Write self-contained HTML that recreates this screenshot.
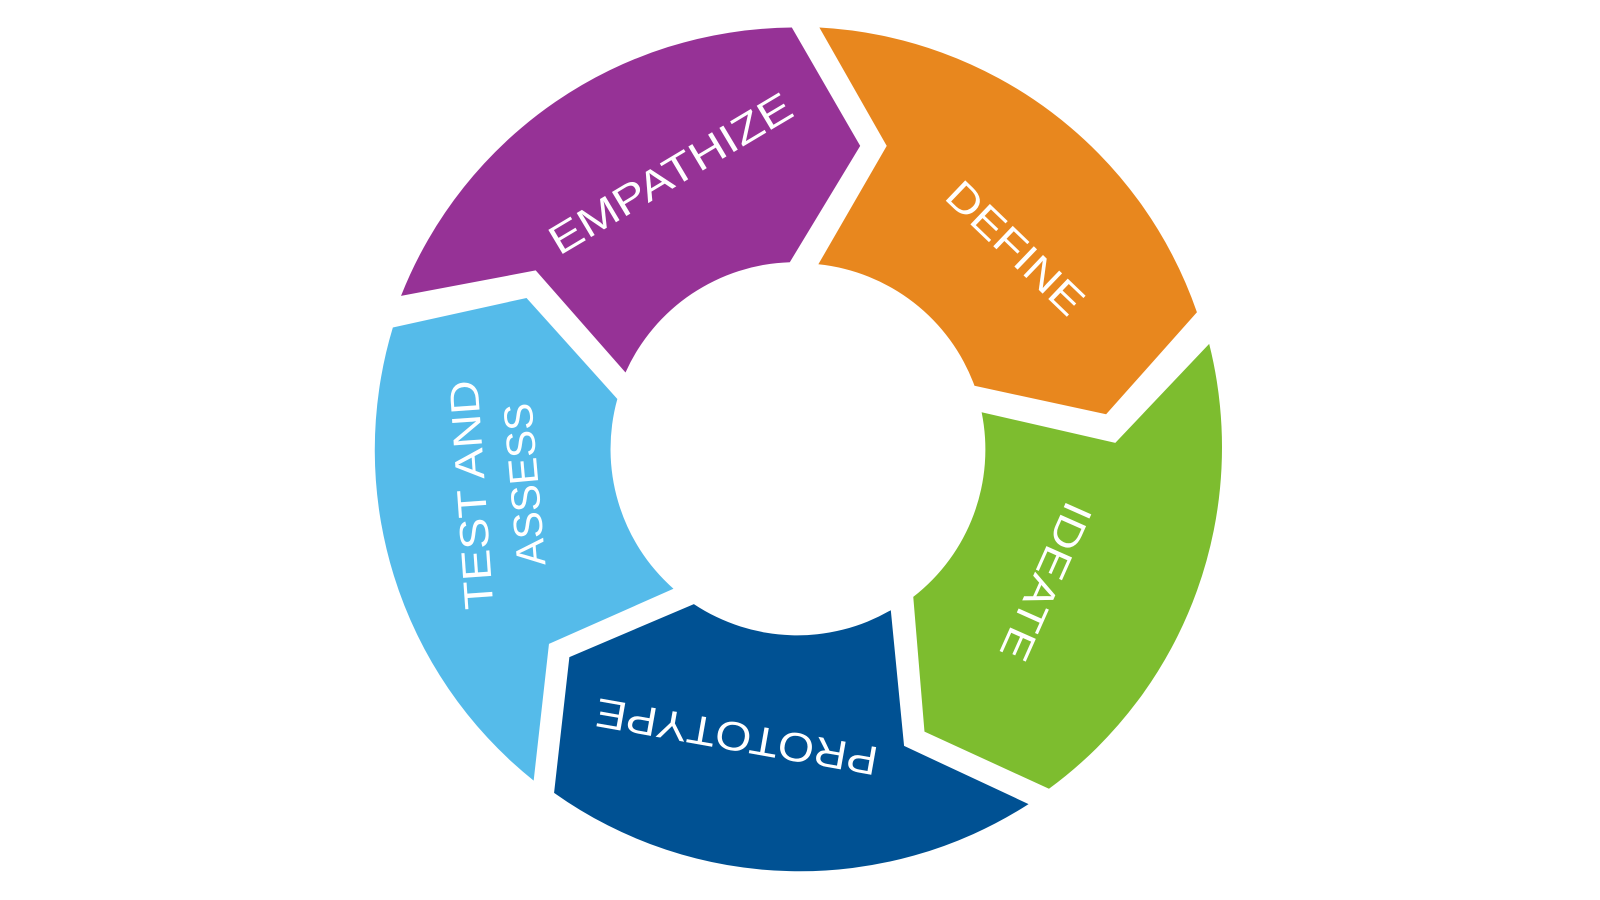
<!DOCTYPE html>
<html><head><meta charset="utf-8"><style>
html,body{margin:0;padding:0;background:#fff;}
svg{display:block;}
text{font-family:"Liberation Sans",sans-serif;fill:#fff;font-size:40px;}
</style></head><body>
<svg width="1600" height="900" viewBox="0 0 1600 900" xmlns="http://www.w3.org/2000/svg">
<g transform="scale(1.0204)">
<path fill="#963296" d="M393,290 A415,415 0 0 1 776,27 L843,143 L774,257 A183,183 0 0 0 613,365 L525,265 Z"/>
<path fill="#E8871E" d="M803,27 A415,415 0 0 1 1173,306 L1084,406 L955,378 A183,183 0 0 0 802,259 L869,143 Z"/>
<path fill="#7DBD2F" d="M1185,337 A415,415 0 0 1 1028,773 L906,717 L895,585 A183,183 0 0 0 962,404 L1093,434 Z"/>
<path fill="#005193" d="M1008,788 A415,415 0 0 1 543,777 L558,644 L680,592 A183,183 0 0 0 873,598 L886,731 Z"/>
<path fill="#55BBEA" d="M523,765 A415,415 0 0 1 385,321 L516,292 L605,391 A183,183 0 0 0 660,577 L538,631 Z"/>

<text x="0" y="0" text-anchor="middle" dominant-baseline="central" textLength="270" lengthAdjust="spacingAndGlyphs" transform="translate(657,170) rotate(-30.8)">EMPATHIZE</text>
<text x="0" y="0" text-anchor="middle" dominant-baseline="central" textLength="170" lengthAdjust="spacingAndGlyphs" transform="translate(995,243) rotate(43.8)">DEFINE</text>
<text x="0" y="0" text-anchor="middle" dominant-baseline="central" textLength="165" lengthAdjust="spacingAndGlyphs" transform="translate(1025,570) rotate(114)">IDEATE</text>
<text x="0" y="0" text-anchor="middle" dominant-baseline="central" textLength="280" lengthAdjust="spacingAndGlyphs" transform="translate(722,722) rotate(190)">PROTOTYPE</text>
<text x="0" y="0" text-anchor="middle" dominant-baseline="central" textLength="225" lengthAdjust="spacingAndGlyphs" transform="translate(462,485) rotate(266)">TEST AND</text>
<text x="0" y="0" text-anchor="middle" dominant-baseline="central" textLength="160" lengthAdjust="spacingAndGlyphs" transform="translate(514,475) rotate(265)">ASSESS</text>
</g>
</svg>
</body></html>
